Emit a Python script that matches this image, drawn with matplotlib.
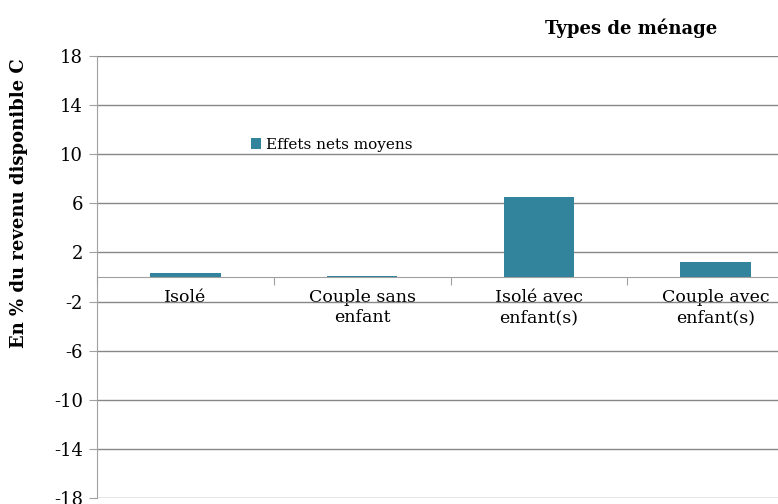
import numpy as np
import matplotlib.pyplot as plt

categories = ['Isolé', 'Couple sans\nenfant', 'Isolé avec\nenfant(s)', 'Couple avec\nenfant(s)']
effets_nets = [0.3, 0.1, 6.5, 1.2]
yticks = [-18, -14, -10, -6, -2, 2, 6, 10, 14, 18]

plt.rcParams['font.family'] = ['DejaVu Serif']

fig = plt.figure(figsize=(7.78, 5.04), dpi=100)
# axes run past the right edge, as in the reference
ax = fig.add_axes([97/778, 6/504, 707/778, 442/504])

x = np.arange(len(categories))
ax.bar(x, effets_nets, width=0.4, color='#31849B', label='Effets nets moyens', zorder=3)

ax.set_xlim(-0.5, 3.5)
ax.set_ylim(-18, 18)
ax.set_yticks(yticks)
ax.set_yticklabels([str(t) for t in yticks], fontsize=13)
ax.tick_params(axis='y', length=6, color='#A0A0A0', pad=4)
ax.grid(axis='y', color='#878787', linewidth=1, zorder=0)

# category separators on the zero line, labels in between
ax.spines['bottom'].set_position(('data', 0))
ax.spines['bottom'].set_color('#A0A0A0')
ax.set_xticks(np.arange(-0.5, 4.0, 1.0))
ax.set_xticklabels([])
ax.tick_params(axis='x', which='major', length=6, direction='out', color='#A0A0A0')
ax.set_xticks(x, minor=True)
ax.set_xticklabels(categories, minor=True, fontsize=12.5)
ax.tick_params(axis='x', which='minor', length=0, pad=9)

for s in ['top', 'right']:
    ax.spines[s].set_visible(False)
ax.spines['left'].set_color('#A0A0A0')

fig.text(19/778, 1 - 203/504, 'En % du revenu disponible C', fontsize=13, fontweight='bold',
         rotation=90, ha='center', va='center')
fig.text(631/778, 1 - 28/504, 'Types de ménage', fontsize=13, fontweight='bold', ha='center', va='center')

ax.legend(loc='upper left', bbox_to_anchor=(140/707, 1 - 68/442), frameon=False,
          fontsize=11, handlelength=0.7, handleheight=0.7, handletextpad=0.3)

fig.savefig('out.png', dpi=100)
